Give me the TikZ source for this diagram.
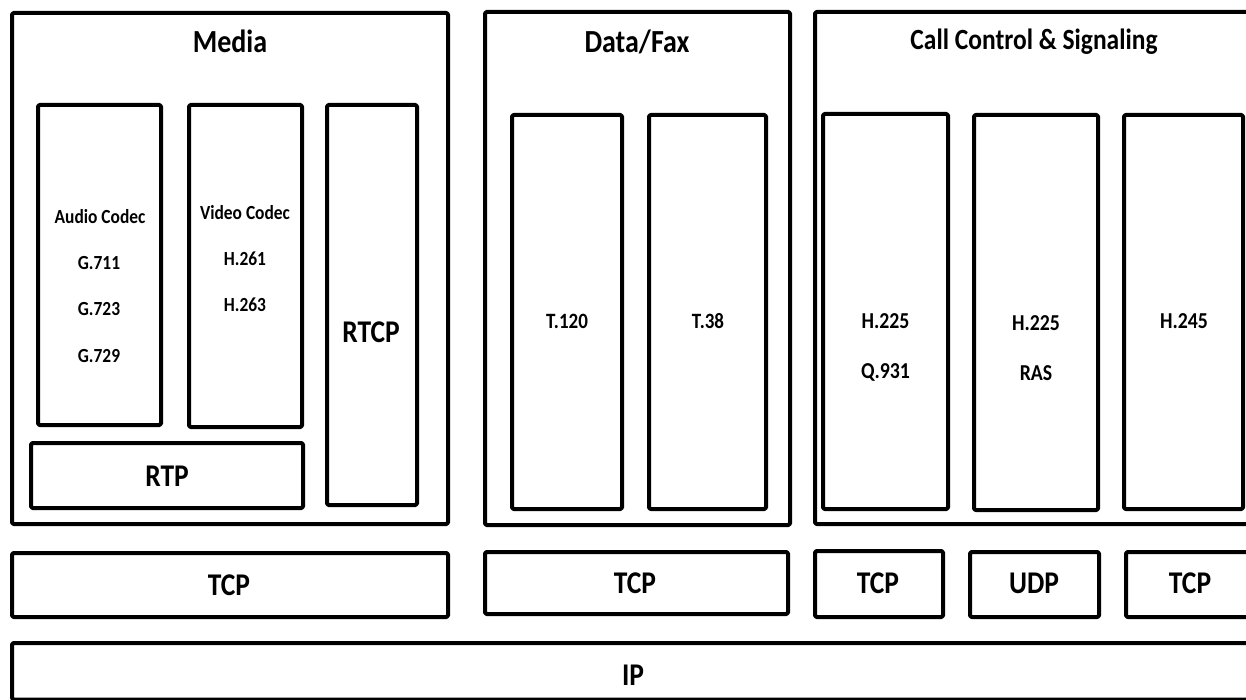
\documentclass[tikz,border=0pt]{standalone}
\usepackage{fontspec}
\usepackage{graphicx}
\setmainfont{Carlito}
\usetikzlibrary{fit}
\newcommand\tx[1]{\scalebox{1}[1.15]{#1}}
\tikzset{
  box/.style={draw=black, line width=4pt, rounded corners=1.5pt, line join=round, inner sep=0pt, outer sep=0pt},
  lbl/.style={anchor=base, inner sep=0pt, text=black},
  big/.style={lbl, font=\bfseries\fontsize{27.5}{30}\selectfont},
  title/.style={lbl, font=\bfseries\fontsize{28}{30}\selectfont},
  ctitle/.style={lbl, font=\bfseries\fontsize{25.5}{28}\selectfont},
  msmall/.style={lbl, font=\bfseries\fontsize{17.4}{20}\selectfont},
  dsmall/.style={lbl, font=\bfseries\fontsize{19}{22}\selectfont},
  csmall/.style={lbl, font=\bfseries\fontsize{19.8}{22}\selectfont},
}
\begin{document}
\begin{tikzpicture}[x=1pt,y=-1pt]
\useasboundingbox (0,0) rectangle (1246,700);
\clip (0,0) rectangle (1246,700);
\fill[white] (0,0) rectangle (1246,700);
% Media
\node[box, fit={(12,13) (448,524)}] (media) {};
\node[box, fit={(38,105) (161,425)}] (audio) {};
\node[box, fit={(189,105) (302,427)}] (video) {};
\node[box, fit={(327,105) (417,505)}] (rtcp) {};
\node[box, fit={(31,443) (303,508)}] (rtp) {};
\node[title] (tmedia) at (230,53) {\tx{Media}};
\node[msmall] (taudio) at (100,224) {\tx{Audio Codec}};
\node[msmall] (tg711) at (99,270) {\tx{G.711}};
\node[msmall] (tg723) at (99,316) {\tx{G.723}};
\node[msmall] (tg729) at (99,362) {\tx{G.729}};
\node[msmall] (tvideo) at (245,220) {\tx{Video Codec}};
\node[msmall] (th261) at (245,266) {\tx{H.261}};
\node[msmall] (th263) at (245,312) {\tx{H.263}};
\node[big] (trtcp) at (371,342) {\tx{RTCP}};
\node[big] (trtp) at (167,486) {\tx{RTP}};
% Data/Fax
\node[box, fit={(485,12) (790,525)}] (datafax) {};
\node[box, fit={(512,115) (622,509)}] (t120) {};
\node[box, fit={(649,115) (766,509)}] (t38) {};
\node[title] (tdatafax) at (637,53) {\tx{Data/Fax}};
\node[dsmall] (tt120) at (567,328) {\tx{T.120}};
\node[dsmall] (tt38) at (708,328) {\tx{T.38}};
% Call Control
\node[box, fit={(815,12) (1262,524)}] (call) {};
\node[box, fit={(823,114) (948,509)}] (h225a) {};
\node[box, fit={(974,115) (1098,510)}] (h225b) {};
\node[box, fit={(1124,115) (1243,509)}] (h245) {};
\node[ctitle] (tcall) at (1034,50) {\tx{Call Control \& Signaling}};
\node[csmall] (th225a) at (885.5,328) {\tx{H.225}};
\node[csmall] (tq931) at (885.5,378) {\tx{Q.931}};
\node[csmall] (th225b) at (1036,330) {\tx{H.225}};
\node[csmall] (tras) at (1036,380) {\tx{RAS}};
\node[csmall] (th245) at (1184,328) {\tx{H.245}};
% transport
\node[box, fit={(12,553) (448,617)}] (tcpm) {};
\node[box, fit={(485,552) (788,614)}] (tcpd) {};
\node[box, fit={(815,551) (943,617)}] (tcpc1) {};
\node[box, fit={(970,552) (1099,617)}] (udp) {};
\node[box, fit={(1126,552) (1262,617)}] (tcpc2) {};
\node[big] (ttcpm) at (229,595) {\tx{TCP}};
\node[big] (ttcpd) at (635,593) {\tx{TCP}};
\node[big] (ttcpc1) at (878,593) {\tx{TCP}};
\node[big] (tudp) at (1034,593) {\tx{UDP}};
\node[big] (ttcpc2) at (1190,593) {\tx{TCP}};
% IP
\node[box, fit={(12,643) (1262,699.5)}] (ip) {};
\node[big] (tip) at (633,685) {\tx{IP}};
\end{tikzpicture}
\end{document}
